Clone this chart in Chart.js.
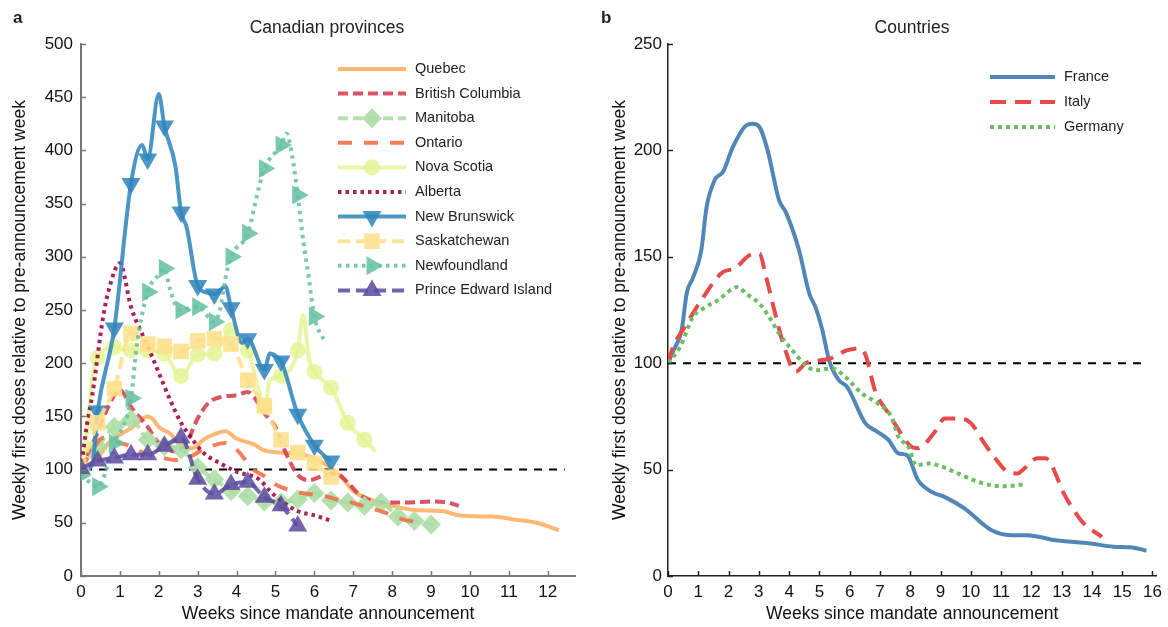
<!DOCTYPE html>
<html>
<head>
<meta charset="utf-8">
<script src="https://cdn.jsdelivr.net/npm/chart.js@4.4.1/dist/chart.umd.min.js"></script>
<style>
    body { margin: 0; background: #fff; font-family: "Liberation Sans", Arial, sans-serif; color: #222; }
    #wrap { position: relative; width: 1168px; height: 627px; }
    canvas { position: absolute; top: 0; }
    #left { left: 0; }
    #right { left: 590px; }
    .lab { position: absolute; font-weight: bold; font-size: 17px; top: 8px; }
    .ttl { position: absolute; font-size: 17.5px; top: 17px; transform: translateX(-50%); white-space: nowrap; }
</style>
</head>
<body>
<div id="wrap">
    <canvas id="left" width="590" height="627"></canvas>
    <canvas id="right" width="578" height="627"></canvas>
    <div class="lab" style="left:13px">a</div>
    <div class="lab" style="left:601px">b</div>
    <div class="ttl" style="left:327px">Canadian provinces</div>
    <div class="ttl" style="left:912px">Countries</div>
</div>
<script>
// --- panel a: days since announcement and weekly doses (% of pre-announcement week)
const quebecDays = [0, 3, 5, 9, 12, 13, 14, 16, 18, 20, 22, 23, 26, 28, 31, 33, 36, 40, 44, 47, 49, 52, 56, 60, 65, 68, 72, 74, 78, 82, 86];
const quebecVals = [100, 111, 125, 139, 150, 147, 140, 134, 123, 120, 128, 131, 136, 129, 124, 118, 116, 114, 105, 92, 80, 72, 66, 62, 61, 57, 56, 56, 53, 50, 43];

const bcDays = [0, 3, 5, 7, 9, 12, 14, 17, 19, 21, 23, 25, 28, 30, 31, 33, 35, 37, 39, 41, 44, 46, 48, 50, 54, 58, 63, 66, 68];
const bcVals = [100, 135, 160, 175, 159, 140, 125, 117, 125, 148, 163, 168, 170, 173, 169, 153, 140, 114, 95, 90, 95, 96, 88, 77, 69, 69, 70, 69, 66];

const manitobaDays = [0, 3, 6, 9, 12, 15, 18, 21, 24, 27, 30, 33, 36, 39, 42, 45, 48, 51, 54, 57, 60, 63, 64];
const manitobaVals = [100, 122, 140, 147, 128, 122, 119, 102, 91, 80, 75, 70, 69, 72, 78, 71, 69, 66, 69, 56, 52, 48.5, 48];

const ontarioDays = [0, 2, 4, 7, 9, 11, 14, 17, 20, 22, 26, 28, 31, 33, 35, 38, 41, 44, 46, 48, 52, 55, 58, 60];
const ontarioVals = [100, 118, 130, 125, 122, 116, 112, 109, 113, 119, 125, 119, 100, 94, 86, 80, 77, 75, 72, 70, 64, 59, 53, 51];

const novaScotiaDays = [0, 1, 2, 3, 6, 9, 12, 15, 18, 21, 24, 27, 30, 32, 33, 34, 36, 39, 40, 41, 42, 45, 48, 51, 53];
const novaScotiaVals = [100, 130, 185, 205, 215, 212, 212, 209, 188, 208, 209, 231, 212, 175, 159, 184, 188, 212, 245, 205, 192, 177, 144, 128, 117];

const albertaDays = [0, 1, 2, 4, 5, 7, 9, 12, 14, 16, 18, 19, 22, 25, 28, 32, 34, 35, 39, 42, 45];
const albertaVals = [100, 140, 169, 244, 269, 294, 253, 216, 191, 166, 144, 136, 116, 106, 98, 91, 80, 75, 61, 57, 52];

const nbDays = [0, 2, 3, 6, 9, 11, 12, 14, 15, 17, 18, 19, 21, 23, 24, 26, 27, 29, 30, 33, 34, 35, 36, 39, 42, 44, 45];
const nbVals = [100, 104, 155, 233, 369, 405, 392, 453, 423, 385, 342, 328, 273, 266, 265, 272, 252, 219, 223, 194, 209, 207, 202, 152, 123, 112, 108];

const saskDays = [0, 3, 6, 9, 12, 15, 18, 21, 24, 27, 30, 33, 36, 39, 42, 45];
const saskVals = [100, 144, 176, 228, 218, 216, 211, 221, 223, 218, 184, 160, 128, 116, 106, 93];

const nflDays = [0, 3, 6, 9, 10, 12, 14, 15, 16, 17, 18, 21, 24, 25, 26, 27, 30, 32, 33, 36, 37, 38, 39, 40, 41, 42, 44];
const nflVals = [95, 84, 125, 167, 215, 267, 283, 289, 270, 255, 250, 253, 239, 250, 280, 300, 322, 365, 383, 405, 416, 395, 358, 315, 280, 244, 219];

const peiDays = [0, 3, 6, 9, 12, 15, 18, 21, 24, 27, 30, 33, 36, 39];
const peiVals = [101, 108, 111, 114, 114, 122, 130, 91, 77, 86, 88, 74, 66, 47];

// --- panel b: weeks since announcement
const franceWeeks = [0, 0.18, 0.45, 0.62, 0.82, 1.1, 1.27, 1.54, 1.82, 2.14, 2.58, 2.8, 3.02, 3.29, 3.67, 3.89, 4.33, 4.66, 4.88, 5.09, 5.32, 5.64, 5.91, 6.52, 6.89, 7.28, 7.61, 7.89, 8.26, 8.7, 9.13, 9.79, 10.67, 11.33, 11.87, 12.75, 13.95, 14.71, 15.27, 15.8];
const franceVals = [100, 106, 115.5, 133, 140, 153, 173, 186, 190, 201.5, 211.7, 212.5, 211, 200, 176.5, 171, 153, 133, 126, 116, 101.4, 92, 89, 71.7, 68, 64, 57.6, 56.8, 45, 39.6, 37.2, 31.8, 21.6, 19.2, 19.2, 16.9, 15.3, 13.8, 13.5, 11.9];

const italyWeeks = [0, 0.17, 0.62, 1.1, 1.82, 2.2, 2.69, 3.02, 3.23, 3.51, 3.84, 4.22, 4.55, 5.32, 5.9, 6.3, 6.52, 6.84, 7.28, 7.56, 8.04, 8.26, 8.81, 9.14, 9.68, 10.01, 10.45, 10.77, 11.21, 11.55, 11.77, 12.2, 12.47, 12.64, 13.07, 13.4, 13.73, 14.33];
const italyVals = [100, 107.6, 118.6, 129.6, 142.9, 144.5, 150.7, 151.5, 141, 125, 107.6, 96, 100, 102, 106, 107, 104, 87, 76.4, 70, 60.7, 60, 67.7, 74, 74, 71.7, 62.3, 56, 49, 48.2, 50.6, 55.3, 55.3, 52.9, 38.8, 31, 24.7, 18.4];

const germanyWeeks = [0, 0.4, 0.82, 1.16, 1.65, 2.3, 2.58, 3.02, 3.34, 3.67, 4.11, 4.55, 4.88, 5.42, 5.85, 6.4, 6.94, 7.38, 7.61, 7.94, 8.2, 8.59, 8.92, 9.57, 10.23, 10.66, 11.1, 11.71];
const germanyVals = [100, 107.6, 121.7, 125.7, 129.6, 135.8, 132.7, 128, 121.7, 113.9, 106, 99, 96.7, 97.5, 93.6, 85.8, 81, 74.8, 65.4, 60.7, 52, 52.9, 52, 48.2, 44.3, 42.7, 42.2, 43];

const refLeft = [0.08, 12.44];
const refRight = [0, 15.8];

Chart.defaults.font.family = "'Liberation Sans', Arial, sans-serif";
Chart.defaults.color = "#111";

const fromDays = (days, vals) => days.map((d, i) => ({ x: d / 7, y: vals[i] }));
const fromWeeks = (weeks, vals) => weeks.map((w, i) => ({ x: w, y: vals[i] }));

function line(label, data, color, width, dash, marker, style, rot) {
    return {
        label: label,
        data: data,
        borderColor: color,
        backgroundColor: color,
        borderWidth: width,
        borderDash: dash,
        borderCapStyle: "butt",
        pointStyle: style || "circle",
        pointRotation: rot || 0,
        pointRadius: marker ? (c => (c.raw && Math.round(c.raw.x * 7) % 3 === 0) ? marker : 0) : 0,
        pointBackgroundColor: color,
        pointBorderColor: color,
        pointBorderWidth: 0,
        marker: marker,
        cubicInterpolationMode: "monotone",
        fill: false
    };
}

function refLine(xs) {
    return {
        label: "",
        data: [{ x: xs[0], y: 100 }, { x: xs[1], y: 100 }],
        borderColor: "#000",
        borderWidth: 2,
        borderDash: [8, 7],
        pointRadius: 0,
        order: 100
    };
}

// legend with line segment and marker, drawn inside the plot
const boxLegend = {
    id: "boxLegend",
    afterDraw(chart, args, o) {
        const ctx = chart.ctx;
        ctx.save();
        ctx.font = o.font;
        ctx.textBaseline = "middle";
        let row = 0;
        chart.data.datasets.forEach(ds => {
            if (!ds.label) return;
            const y = o.y + row * o.gap;
            ctx.strokeStyle = ds.borderColor;
            ctx.lineWidth = ds.borderWidth;
            ctx.lineCap = "butt";
            ctx.setLineDash(ds.borderDash || []);
            ctx.beginPath();
            ctx.moveTo(o.x, y);
            ctx.lineTo(o.x + o.len, y);
            ctx.stroke();
            ctx.setLineDash([]);
            if (ds.marker) {
                ctx.fillStyle = ds.pointBackgroundColor;
                Chart.helpers.drawPoint(ctx, {
                    pointStyle: ds.pointStyle, rotation: ds.pointRotation, radius: ds.marker, borderWidth: 0
                }, o.x + o.len / 2, y);
            }
            ctx.fillStyle = "#222";
            ctx.fillText(ds.label, o.x + o.len + o.pad, y);
            row++;
        });
        ctx.restore();
    }
};

// inward tick marks
const inTicks = {
    id: "inTicks",
    afterDraw(chart, args, o) {
        const { ctx, chartArea: a, scales } = chart;
        ctx.save();
        ctx.strokeStyle = o.color;
        ctx.lineWidth = o.width;
        scales.x.ticks.forEach(t => {
            const px = Math.round(scales.x.getPixelForValue(t.value)) + 0.5;
            ctx.beginPath(); ctx.moveTo(px, a.bottom); ctx.lineTo(px, a.bottom - o.len); ctx.stroke();
        });
        scales.y.ticks.forEach(t => {
            const py = Math.round(scales.y.getPixelForValue(t.value)) + 0.5;
            ctx.beginPath(); ctx.moveTo(a.left, py); ctx.lineTo(a.left + o.len, py); ctx.stroke();
        });
        ctx.restore();
    }
};

function makeOptions(p) {
    return {
        responsive: false,
        animation: false,
        events: [],
        layout: { padding: { left: 0, right: p.padRight, top: 44, bottom: 0 } },
        scales: {
            x: {
                type: "linear", min: p.xMin, max: p.xMax,
                grid: { display: false, drawTicks: false },
                border: { display: true, color: p.axisColor, width: p.axisWidth },
                ticks: { stepSize: 1, includeBounds: false, padding: 6, font: { size: 17 }, color: "#111" },
                title: { display: true, text: "Weeks since mandate announcement", font: { size: 17.5 }, color: "#111", padding: { top: 0, bottom: 2.5 } },
                afterFit: s => { s.height = 51; }
            },
            y: {
                min: 0, max: p.yMax,
                grid: { display: false, drawTicks: false },
                border: { display: true, color: p.axisColor, width: p.axisWidth },
                ticks: { stepSize: p.yStep, padding: p.yPad, font: { size: 17 }, color: "#111" },
                title: { display: true, text: "Weekly first doses relative to pre-announcement week", font: { size: 17.5 }, color: "#111", padding: { top: p.titlePad, bottom: 0 } },
                afterFit: s => { s.width = p.yWidth; }
            }
        },
        plugins: {
            legend: { display: false },
            tooltip: { enabled: false },
            boxLegend: p.legend,
            inTicks: { color: p.axisColor, width: 1.5, len: 5 }
        }
    };
}

const a = 0.88;
const provinces = [
    line("Quebec", fromDays(quebecDays, quebecVals), `rgba(253,174,97,${a})`, 4, []),
    line("British Columbia", fromDays(bcDays, bcVals), `rgba(213,62,79,${a})`, 4, [10, 5]),
    line("Manitoba", fromDays(manitobaDays, manitobaVals), `rgba(171,221,164,${a})`, 4, [10, 5], 10, "rectRot"),
    line("Ontario", fromDays(ontarioDays, ontarioVals), `rgba(244,109,67,${a})`, 4, [14, 12]),
    line("Nova Scotia", fromDays(novaScotiaDays, novaScotiaVals), `rgba(230,245,152,${a})`, 4, [], 8, "circle"),
    line("Alberta", fromDays(albertaDays, albertaVals), `rgba(158,1,66,${a})`, 4, [3.5, 4]),
    line("New Brunswick", fromDays(nbDays, nbVals), `rgba(50,136,189,${a})`, 4, [], 11, "triangle", 180),
    line("Saskatchewan", fromDays(saskDays, saskVals), `rgba(254,224,139,${a})`, 4, [12, 6], 11, "rect"),
    line("Newfoundland", fromDays(nflDays, nflVals), `rgba(102,194,165,${a})`, 4, [3.5, 4.5], 11, "triangle", 90),
    line("Prince Edward Island", fromDays(peiDays, peiVals), `rgba(94,79,162,${a})`, 4, [12, 6], 11, "triangle")
];
provinces.forEach((ds, i) => { ds.order = provinces.length - i; });
provinces.push(refLine(refLeft));

const countries = [
    line("France", fromWeeks(franceWeeks, franceVals), "#5087b6", 4, []),
    line("Italy", fromWeeks(italyWeeks, italyVals), "#e8494b", 4, [16, 9]),
    line("Germany", fromWeeks(germanyWeeks, germanyVals), "#6cbd63", 4, [4, 4])
];
countries.forEach((ds, i) => { ds.order = countries.length - i; });
countries.push(refLine(refRight));

new Chart(document.getElementById("left").getContext("2d"), {
    type: "line",
    data: { datasets: provinces },
    options: makeOptions({
        padRight: 15, xMin: 0, xMax: 12.7, yMax: 500, yStep: 50, yPad: 8, yWidth: 81, titlePad: 9.5,
        axisColor: "#777", axisWidth: 2,
        legend: { x: 338, y: 69, gap: 24.6, len: 68, pad: 9, font: "14.5px 'Liberation Sans', Arial, sans-serif" }
    }),
    plugins: [boxLegend, inTicks]
});

new Chart(document.getElementById("right").getContext("2d"), {
    type: "line",
    data: { datasets: countries },
    options: makeOptions({
        padRight: 8, xMin: 0, xMax: 16.13, yMax: 250, yStep: 50, yPad: 6, yWidth: 78, titlePad: 19.5,
        axisColor: "#222", axisWidth: 1.5,
        legend: { x: 400, y: 77, gap: 25, len: 65, pad: 9, font: "14.5px 'Liberation Sans', Arial, sans-serif" }
    }),
    plugins: [boxLegend, inTicks]
});
</script>
</body>
</html>
